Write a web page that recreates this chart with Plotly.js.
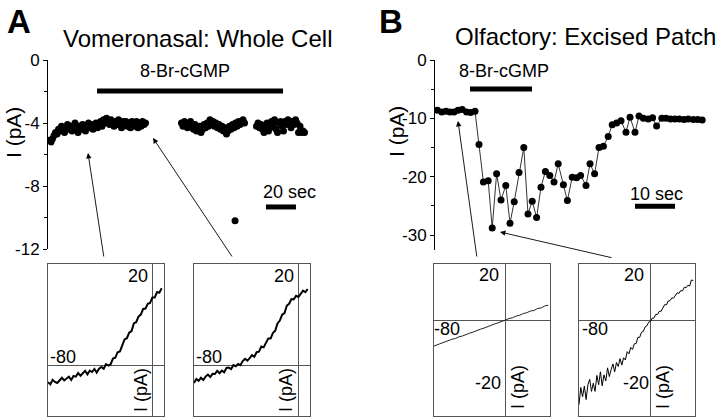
<!DOCTYPE html>
<html>
<head>
<meta charset="utf-8">
<script src="https://cdn.plot.ly/plotly-3.0.1.min.js"></script>
<style>html,body{margin:0;padding:0;background:#fff;}#chart{width:720px;height:420px;}</style>
</head>
<body>
<div id="chart"></div>
<script>
// ---------- Panel A: vomeronasal whole-cell current (time in s, current in pA)
const tA1 = [1,2,3,4,5,6,7,8,9,10,11,12,13,14,15,16,17,18,19,20,21,22,23,24,25,26,27,28,29,30,31,32,33,34,35,36,37,38,39,40,41,42,43,44,45,46,47,48,49,50,51,52,53,54,55,56,57,58,59,60,61,62,63,64,65];
const iA1 = [-5.1,-5.2,-5.0,-4.8,-4.6,-4.7,-4.4,-4.5,-4.2,-4.4,-4.6,-4.3,-4.1,-4.4,-4.2,-4.5,-4.3,-4.0,-4.3,-4.6,-4.2,-4.4,-4.1,-4.3,-4.5,-4.2,-4.0,-4.3,-4.1,-4.4,-4.2,-4.0,-4.3,-4.1,-3.9,-4.2,-3.8,-4.0,-3.7,-3.9,-4.1,-3.8,-4.0,-4.2,-3.9,-4.1,-3.8,-4.0,-4.3,-3.9,-4.1,-3.9,-4.2,-4.0,-4.3,-3.9,-4.1,-4.2,-3.9,-4.3,-4.0,-4.2,-3.9,-4.1,-4.0];
const tA2 = [89,90,91,92,93,94,95,96,97,98,99,100,101,102,103,104,105,106,107,108,109,110,111,112,113,114,115,116,117,118,119,120,121,122,123,124,125,126,127,128,129,130,131,124.7];
const iA2 = [-4.0,-4.2,-3.9,-4.1,-4.3,-4.0,-3.9,-4.2,-4.4,-4.1,-4.5,-4.3,-4.2,-4.6,-4.4,-4.1,-4.3,-4.0,-4.2,-3.8,-4.1,-3.9,-4.2,-4.0,-4.3,-4.1,-4.4,-4.2,-4.5,-4.3,-4.7,-4.5,-4.2,-4.4,-4.1,-4.3,-4.0,-4.2,-3.9,-4.1,-4.0,-3.8,-4.0,-10.2];
const tA3 = [139,140,141,142,143,144,145,146,147,148,149,150,151,152,153,154,155,156,157,158,159,160,161,162,163,164,165,166,167,168,169,170,171];
const iA3 = [-4.2,-4.0,-4.3,-4.1,-4.4,-4.6,-4.2,-4.0,-4.5,-4.3,-3.9,-4.1,-3.8,-4.4,-4.6,-4.0,-3.9,-4.2,-4.5,-3.9,-4.1,-3.8,-4.0,-4.3,-3.9,-4.1,-3.8,-4.0,-4.6,-4.2,-4.6,-4.5,-4.6];
const stimA_t = [32.7, 156.7];
const stimA_i = [-1.97, -1.97];
const scaleA_t = [145.3, 165.3];
const scaleA_i = [-9.33, -9.33];
const yTicksA = [0, -4, -8, -12];

// ---------- Panel B: olfactory excised patch
const tB = [0.6,1.7,2.75,3.75,4.75,5.75,6.8,7.9,8.9,10,11,12.1,13.3,14.3,15.4,16.5,17.7,18.75,19.8,21,22.2,23.25,24.3,25.4,26.5,27.6,28.7,29.75,30.8,32.1,33.1,34.3,35.4,36.4,37.75,38.75,39.9,41,42.1,43.3,44.3,45.4,46.5,47.75,48.75,50,51,52.1,53.3,54.4,55.4,56.7,57.75,58.9,60,61.1,62.25,63.3,64.6,65.7,66.8];
const iB = [-8.6,-8.9,-8.8,-8.9,-8.9,-8.6,-8.5,-8.9,-9.0,-8.8,-14.5,-20.9,-20.7,-28.8,-19.5,-24.0,-21.5,-28.0,-24.3,-19.3,-15.0,-26.4,-24.2,-27.0,-21.8,-19.1,-19.8,-20.9,-17.8,-21.4,-24.1,-20.1,-20.2,-19.8,-21.5,-17.8,-19.5,-15.0,-14.8,-13.1,-11.1,-10.8,-10.4,-12.4,-9.8,-12.4,-9.6,-10.0,-10.1,-9.9,-11.3,-10.0,-10.0,-10.1,-10.1,-10.1,-10.2,-10.1,-10.2,-10.2,-10.3];
const stimB_t = [8.75, 24.25];
const stimB_i = [-4.95, -4.95];
const scaleB_t = [50, 60];
const scaleB_i = [-25.05, -25.05];
const yTicksB = [0, -10, -20, -30];

// ---------- Insets: I-V curves (mV, pA)
const vA = [-90,-88,-86,-84,-82,-80,-78,-76,-74,-72,-70,-68,-66,-64,-62,-60,-58,-56,-54,-52,-50,-48,-46,-44,-42,-40,-38,-36,-34,-32,-30,-28,-26,-24,-22,-20,-18,-16,-14,-12,-10,-8,-6,-4,-2,0,2,4,6,8];
const ivA1 = [-4.3,-4.85,-3.7,-4.25,-4.5,-3.7,-3.2,-3.85,-3.45,-2.9,-3.75,-2.75,-2.9,-2.0,-2.7,-2.1,-1.45,-2.35,-1.4,-1.75,-1.0,-1.9,-0.95,-0.5,-0.95,0.2,-0.15,0.2,1.6,1.8,3.2,3.4,5.1,6.4,6.7,8.1,8.5,10.4,10.7,12.1,12.6,14.0,14.1,15.3,15.5,16.9,16.9,18.2,18.1,19.2];
const ivA2 = [-4.5,-3.5,-3.95,-3.2,-3.75,-2.9,-2.4,-3.0,-2.2,-2.25,-1.45,-2.05,-1.4,-1.8,-0.75,-0.65,-1.0,0.0,-0.3,0.25,-0.05,1.0,1.55,1.1,1.7,2.45,2.05,3.2,3.35,4.6,4.4,5.6,6.6,6.6,8.0,8.55,10.4,11.1,12.6,13.0,14.8,15.3,16.5,16.4,17.3,17.0,17.9,18.6,18.2,19.0];
const vB1 = [-80,-76,-72,-68,-64,-60,-56,-52,-48,-44,-40,-36,-32,-28,-24,-20,-16,-12,-8,-4,0,4,8,12,16,20,24,28,32,36,40,44,48];
const ivB1 = [-9.3,-8.8,-8.5,-7.9,-7.5,-6.9,-6.6,-6.0,-5.7,-5.1,-4.7,-4.3,-3.7,-3.3,-2.9,-2.3,-1.9,-1.4,-1.0,-0.4,0.0,0.5,0.8,1.4,1.7,2.3,2.6,3.2,3.4,4.1,4.3,5.0,5.3];
const vB2 = [-80,-78,-76,-74,-72,-70,-68,-66,-64,-62,-60,-58,-56,-54,-52,-50,-48,-46,-44,-42,-40,-38,-36,-34,-32,-30,-28,-26,-24,-22,-20,-18,-16,-14,-12,-10,-8,-6,-4,-2,0,2,4,6,8,10,12,14,16,18,20,22,24,26,28,30,32,34,36,38,40,42,44,46,48];
const ivB2 = [-30.2,-24.1,-27.4,-23.6,-28.4,-23.1,-21.2,-25.5,-22.6,-25.5,-19.8,-23.1,-18.5,-23.5,-19.6,-21.8,-17.1,-20.2,-17.7,-15.7,-18.5,-15.2,-16.6,-13.8,-16.1,-13.5,-14.3,-11.3,-12.1,-9.8,-10.5,-8.5,-8.4,-6.2,-6.2,-4.4,-4.1,-2.5,-2.1,-0.8,-0.5,0.6,0.7,2.0,2.0,3.1,3.1,4.4,5.5,5.4,6.8,6.9,7.9,7.8,8.9,9.7,9.5,10.5,10.4,11.7,11.5,12.4,12.1,14.3,14.1];

// ---------- layout helpers
const W = 720, H = 420;
const fx = p => p / W;
const fy = p => 1 - p / H;
const FONT = 'Liberation Sans, Arial, Helvetica, sans-serif';

const traces = [
  {x: tA1, y: iA1, xaxis: 'x', yaxis: 'y', mode: 'markers', marker: {color: '#000', size: 7}},
  {x: tA2, y: iA2, xaxis: 'x', yaxis: 'y', mode: 'markers', marker: {color: '#000', size: 7}},
  {x: tA3, y: iA3, xaxis: 'x', yaxis: 'y', mode: 'markers', marker: {color: '#000', size: 7}},
  {x: stimA_t, y: stimA_i, xaxis: 'x', yaxis: 'y', mode: 'lines', line: {color: '#000', width: 5}},
  {x: scaleA_t, y: scaleA_i, xaxis: 'x', yaxis: 'y', mode: 'lines', line: {color: '#000', width: 5}},
  {x: tB, y: iB, xaxis: 'x2', yaxis: 'y2', mode: 'lines+markers', line: {color: '#000', width: 0.8}, marker: {color: '#000', size: 7}},
  {x: stimB_t, y: stimB_i, xaxis: 'x2', yaxis: 'y2', mode: 'lines', line: {color: '#000', width: 5}},
  {x: scaleB_t, y: scaleB_i, xaxis: 'x2', yaxis: 'y2', mode: 'lines', line: {color: '#000', width: 5}},
  {x: vA, y: ivA1, xaxis: 'x3', yaxis: 'y3', mode: 'lines', line: {color: '#000', width: 2}},
  {x: vA, y: ivA2, xaxis: 'x4', yaxis: 'y4', mode: 'lines', line: {color: '#000', width: 2}},
  {x: vB1, y: ivB1, xaxis: 'x5', yaxis: 'y5', mode: 'lines', line: {color: '#222', width: 1}},
  {x: vB2, y: ivB2, xaxis: 'x6', yaxis: 'y6', mode: 'lines', line: {color: '#000', width: 1}}
];

const mainY = (dom, rng, tv, minorStep, anchor) => ({
  domain: dom, range: rng, anchor: anchor, showline: true, linecolor: '#000', linewidth: 1,
  ticks: 'outside', ticklen: 4, tickwidth: 1, tickcolor: '#000', tickvals: tv,
  ticktext: tv.map(v => v === 0 ? '0' : '-' + Math.abs(v)),
  minor: {dtick: minorStep, tick0: 0, ticks: 'outside', ticklen: 3, tickcolor: '#000', showgrid: false},
  showgrid: false, zeroline: false, tickfont: {family: FONT, size: 17, color: '#000'}, fixedrange: true
});
const hiddenX = (dom, rng, anchor) => ({domain: dom, range: rng, anchor: anchor, visible: false, fixedrange: true});
const insetAx = (dom, rng, anchor) => ({
  domain: dom, range: rng, anchor: anchor, showline: true, mirror: true, linecolor: '#555', linewidth: 1,
  zeroline: true, zerolinecolor: '#555', zerolinewidth: 1, showgrid: false, showticklabels: false, ticks: '', fixedrange: true
});

const insetY = [fy(416), fy(264)];
const layout = {
  width: W, height: H, margin: {l: 0, r: 0, t: 0, b: 0, pad: 0},
  paper_bgcolor: '#fff', plot_bgcolor: 'rgba(0,0,0,0)', showlegend: false,
  font: {family: FONT, color: '#000'},
  xaxis: hiddenX([fx(48), fx(318)], [0, 180], 'y'),
  yaxis: mainY([fy(249), fy(60)], [-12, 0], yTicksA, 2, 'x'),
  xaxis2: hiddenX([fx(435), fx(715)], [0, 70], 'y2'),
  yaxis2: mainY([fy(250), fy(60)], [-32.57, 0], yTicksB, 5, 'x2'),
  xaxis3: insetAx([fx(48), fx(164)], [-90, 10], 'y3'),
  yaxis3: insetAx(insetY, [-12.75, 25.25], 'x3'),
  xaxis4: insetAx([fx(194), fx(310)], [-90, 10], 'y4'),
  yaxis4: insetAx(insetY, [-12.75, 25.25], 'x4'),
  xaxis5: insetAx([fx(434), fx(550)], [-80, 50], 'y5'),
  yaxis5: insetAx(insetY, [-34.29, 20], 'x5'),
  xaxis6: insetAx([fx(579), fx(695)], [-80, 50], 'y6'),
  yaxis6: insetAx(insetY, [-34.29, 20], 'x6'),
  annotations: []
};

const txt = (text, x, y, size, opts) => Object.assign({
  text: text, x: fx(x), y: fy(y), xref: 'paper', yref: 'paper', showarrow: false,
  xanchor: 'center', yanchor: 'middle', font: {family: FONT, size: size, color: '#000'}
}, opts || {});
const arrow = (tipX, tipY, tailX, tailY) => ({
  text: '', x: fx(tipX), y: fy(tipY), xref: 'paper', yref: 'paper', showarrow: true,
  ax: tailX - tipX, ay: tailY - tipY, arrowhead: 2, arrowsize: 1.2, arrowwidth: 0.9, arrowcolor: '#000', standoff: 0, startstandoff: 0
});

layout.annotations.push(
  txt('<b>A</b>', 19, 21, 33),
  txt('<b>B</b>', 391, 21, 33),
  txt('Vomeronasal: Whole Cell', 197, 38, 24),
  txt('Olfactory: Excised Patch', 585, 36, 24),
  txt('I (pA)', 13, 132, 21, {textangle: -90}),
  txt('I (pA)', 396, 132, 21, {textangle: -90}),
  {text: '8-Br-cGMP', x: 91, y: -0.72, xref: 'x', yref: 'y', showarrow: false, font: {family: FONT, size: 18, color: '#000'}},
  {text: '20 sec', x: 161, y: -8.4, xref: 'x', yref: 'y', showarrow: false, font: {family: FONT, size: 18, color: '#000'}},
  {text: '8-Br-cGMP', x: 17.25, y: -1.9, xref: 'x2', yref: 'y2', showarrow: false, font: {family: FONT, size: 18, color: '#000'}},
  {text: '10 sec', x: 55.25, y: -22.9, xref: 'x2', yref: 'y2', showarrow: false, font: {family: FONT, size: 18, color: '#000'}},
  // inset labels
  txt('20', 138, 276, 18), txt('-80', 63, 357, 18), txt('I (pA)', 141, 390, 18, {textangle: -90}),
  txt('20', 284, 276, 18), txt('-80', 209, 357, 18), txt('I (pA)', 286, 390, 18, {textangle: -90}),
  txt('20', 489, 275, 18), txt('-80', 447, 329, 18), txt('-20', 488, 383, 18), txt('I (pA)', 518, 387, 18, {textangle: -90}),
  txt('20', 634, 275, 18), txt('-80', 595, 329, 18), txt('-20', 636, 383, 18), txt('I (pA)', 663, 387, 18, {textangle: -90}),
  // arrows from insets to time points
  arrow(88, 153, 104, 258),
  arrow(153, 138, 233, 258),
  arrow(458, 121, 477, 258),
  arrow(500, 232, 613, 258)
);

Plotly.newPlot('chart', traces, layout, {displayModeBar: false, staticPlot: true});
</script>
</body>
</html>
